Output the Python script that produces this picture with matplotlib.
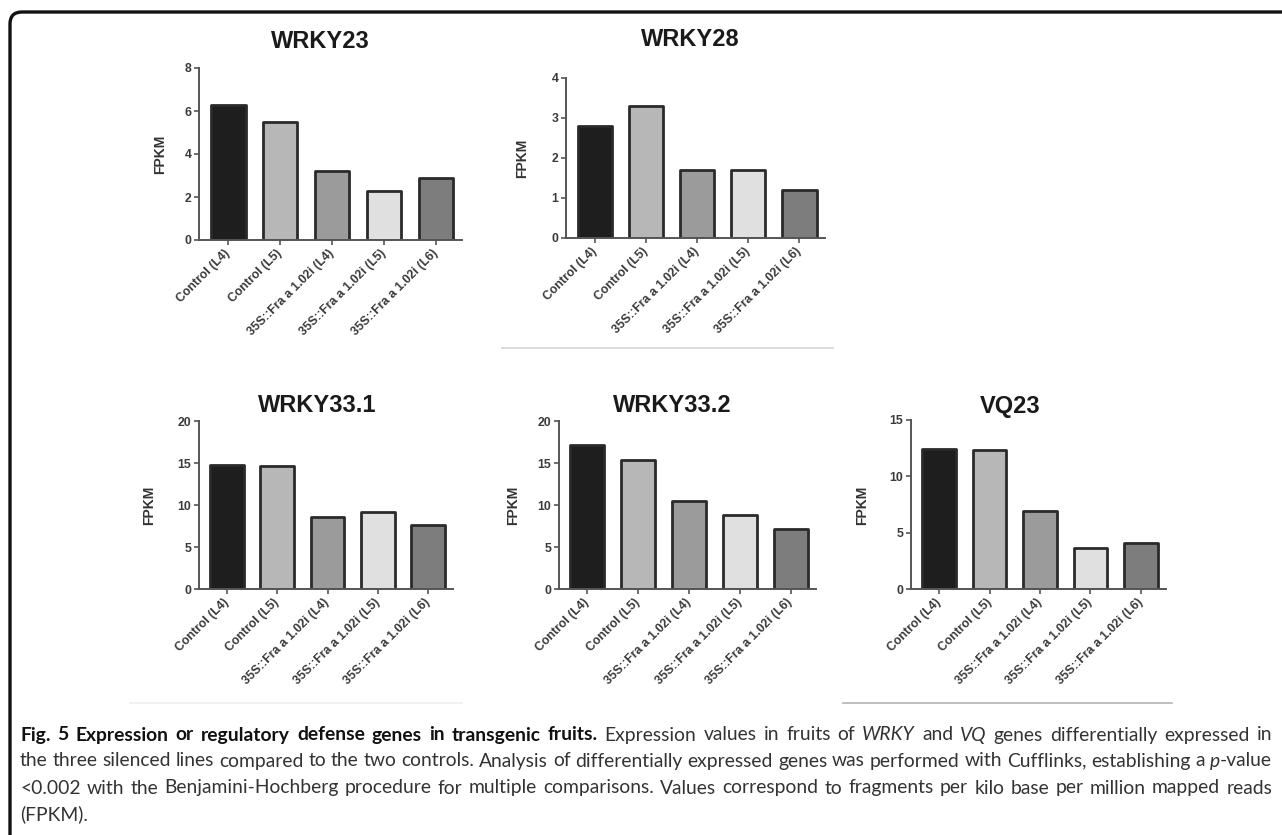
import matplotlib
matplotlib.use("Agg")

import matplotlib.pyplot as plt
from matplotlib.patches import FancyBboxPatch
from matplotlib.lines import Line2D
from matplotlib.transforms import IdentityTransform
import numpy as np

W, H = 1282, 835

# data
categories = ['Control (L4)', 'Control (L5)', '35S::Fra a 1.02i (L4)',
              '35S::Fra a 1.02i (L5)', '35S::Fra a 1.02i (L6)']
genes = ['WRKY23', 'WRKY28', 'WRKY33.1', 'WRKY33.2', 'VQ23']
wrky23 = [6.3, 5.5, 3.2, 2.3, 2.9]
wrky28 = [2.8, 3.3, 1.7, 1.7, 1.2]
wrky33_1 = [14.8, 14.6, 8.6, 9.2, 7.6]
wrky33_2 = [17.2, 15.3, 10.5, 8.8, 7.1]
vq23 = [12.4, 12.3, 6.9, 3.6, 4.1]
y_ticks = [[0, 2, 4, 6, 8], [0, 1, 2, 3, 4], [0, 5, 10, 15, 20],
           [0, 5, 10, 15, 20], [0, 5, 10, 15]]

bar_colors = ['#1e1e1f', '#b7b7b7', '#9b9b9b', '#e0e0e0', '#7d7d7d']

# panel boxes in pixels: left, right, top, bottom of plotting area
boxes = [(199, 462, 68, 240), (566, 825, 78, 238), (199, 453, 421, 589),
         (559, 816, 421, 589), (911, 1166, 420, 589)]
title_pos = [(320, 41), (690, 40), (317, 406), (672, 406), (1010, 406)]
ylab_pos = [(160, 154), (522, 158), (149, 505), (513, 505), (862, 505)]

plt.rcParams['font.family'] = ['Liberation Sans', 'DejaVu Sans']
fig = plt.figure(figsize=(W / 100, H / 100), dpi=100)

all_vals = [wrky23, wrky28, wrky33_1, wrky33_2, vq23]
x = np.arange(len(categories))
for i, vals in enumerate(all_vals):
    l, r, t, b = boxes[i]
    ax = fig.add_axes([l / W, 1 - b / H, (r - l) / W, (b - t) / H])
    ax.bar(x, vals, width=0.67, color=bar_colors, edgecolor='#2a2a2a',
           linewidth=2.0, joinstyle='round')
    ax.set_xlim(-0.56, 4.5)
    ax.set_ylim(0, y_ticks[i][-1])
    ax.set_yticks(y_ticks[i])
    ax.set_xticks(x)
    ax.set_xticklabels(categories, rotation=45, ha='right', va='center',
                       rotation_mode='anchor', fontweight='bold')
    for lab in ax.get_yticklabels():
        lab.set_fontweight('bold')
    for s in ['top', 'right']:
        ax.spines[s].set_visible(False)
    for s in ['left', 'bottom']:
        ax.spines[s].set_color('#555555')
        ax.spines[s].set_linewidth(1.4)
    ax.tick_params(direction='out', length=3.5, width=1.2, color='#555555',
                   labelsize=8.8, labelcolor='#3a3a3a', pad=2)
    ax.tick_params(axis='x', pad=5)
    ax.patch.set_alpha(0)

    tx, ty = title_pos[i]
    fig.text(tx / W, 1 - ty / H, genes[i], ha='center', va='center',
             fontsize=17, fontweight='bold', color='#1a1a1a')
    lx, ly = ylab_pos[i]
    fig.text(lx / W, 1 - ly / H, 'FPKM', ha='center', va='center',
             rotation=90, fontsize=10, fontweight='bold', color='#333333')

# separator lines
for x0, x1, y, c in [(502, 833, 348, '#d4d4d4'), (130, 462, 703, '#eeeeee'),
                     (843, 1172, 703, '#b4b4b4')]:
    fig.add_artist(Line2D([x0 / W, x1 / W], [1 - y / H, 1 - y / H],
                          transform=fig.transFigure, color=c, lw=1.2))

# outer frame, running off the right and bottom edges
frame = FancyBboxPatch((10, -12), 1300, 835,
                       boxstyle='round,pad=0,rounding_size=12',
                       transform=IdentityTransform(), fill=False,
                       edgecolor='#111111', lw=2.4)
fig.add_artist(frame)

# caption, justified word by word
cap_font = ['Lato', 'DejaVu Sans']
styles = {'b': dict(fontweight='bold', color='#111111'),
          'n': dict(color='#333333'),
          'i': dict(style='italic', color='#333333')}

line1 = [[(w, 'b')] for w in 'Fig. 5 Expression or regulatory defense genes in transgenic fruits.'.split()]
line1 += [[(w, 'n')] for w in 'Expression values in fruits of'.split()]
line1 += [[('WRKY', 'i')], [('and', 'n')], [('VQ', 'i')]]
line1 += [[(w, 'n')] for w in 'genes differentially expressed in'.split()]
line2 = [[(w, 'n')] for w in ('the three silenced lines compared to the two controls. Analysis of '
                              'differentially expressed genes was performed with Cufflinks, '
                              'establishing a').split()]
line2 += [[('p', 'i'), ('-value', 'n')]]
line3 = [[(w, 'n')] for w in ('<0.002 with the Benjamini-Hochberg procedure for multiple comparisons. '
                              'Values correspond to fragments per kilo base per million mapped reads').split()]
line4 = [[('(FPKM).', 'n')]]
caption_lines = [line1, line2, line3, line4]
caption_y = [735, 761, 788, 814]
cap_x0, cap_x1 = 20, 1272
space_em = 0.25

renderer = fig.canvas.get_renderer()


def measure(words, size):
    out = []
    for word in words:
        parts = []
        for txt, st in word:
            t = fig.text(0, 0, txt, transform=IdentityTransform(), va='center',
                         ha='left', fontsize=size, family=cap_font, **styles[st])
            parts.append((t, t.get_window_extent(renderer).width))
        out.append(parts)
    return out


# pick the largest size at which every justified line fits with normal spaces
base = 10.0
fits = []
for words in caption_lines[:3]:
    parts = measure(words, base)
    ww = sum(w for p in parts for _, w in p)
    for p in parts:
        for t, _ in p:
            t.remove()
    per_pt = (ww + (len(words) - 1) * space_em * base * 100 / 72) / base
    fits.append((cap_x1 - cap_x0) / per_pt)
cap_size = min(min(fits), 15.5)

for li, words in enumerate(caption_lines):
    y = H - caption_y[li]
    word_parts = measure(words, cap_size)
    word_w = [sum(w for _, w in p) for p in word_parts]
    if li < len(caption_lines) - 1 and len(words) > 1:
        gap = (cap_x1 - cap_x0 - sum(word_w)) / (len(words) - 1)
    else:
        gap = cap_size * 100 / 72 * space_em
    xpos = cap_x0
    for parts, ww in zip(word_parts, word_w):
        px = xpos
        for t, w in parts:
            t.set_position((px, y))
            px += w
        xpos += ww + gap

fig.savefig('out.png', dpi=100)
